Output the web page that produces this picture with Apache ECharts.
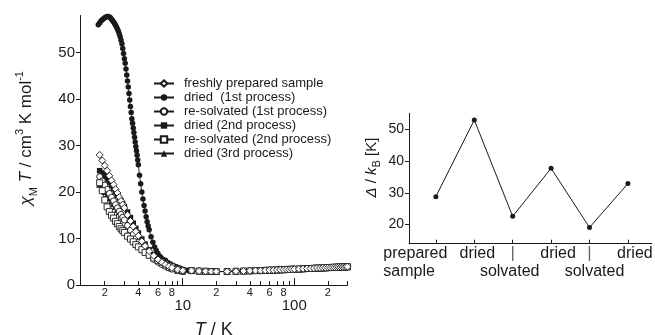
<!DOCTYPE html>
<html>
<head>
<meta charset="utf-8">
<script src="https://cdn.jsdelivr.net/npm/echarts@6/dist/echarts.min.js"></script>
<style>
html,body{margin:0;padding:0;background:#fff;}
#c{width:655px;height:335px;}
</style>
</head>
<body>
<div id="c"></div>
<script>
// ---------------- data ----------------
const seriesNames = [
  'freshly prepared sample',
  'dried  (1st process)',
  're-solvated (1st process)',
  'dried (2nd process)',
  're-solvated (2nd process)',
  'dried (3rd process)'
];
// dried (1st process), low temperature part (K, cm3 K mol-1)
const dried1T = [1.75,1.8,1.85,1.9,1.95,2.0,2.05,2.1,2.15,2.2,2.25,2.3,2.35,2.4,2.45,2.5,2.55,2.6,2.65,2.7,2.75,2.8,2.85,2.9,2.95,3.0,3.05,3.1,3.15,3.2,3.25,3.3,3.35,3.4,3.45,3.5,3.55,3.6,3.65,3.7,3.75,3.8,3.85,3.9,3.95,4.0,4.1,4.2,4.3,4.4,4.5,4.6,4.7,4.8,4.9,5.0,5.2,5.4,5.6,5.8,6.0,6.3,6.6,7.0,7.4,7.8,8.2,8.6,9.0,9.5,10,11];
const dried1Chi = [56.0,56.4,56.8,57.1,57.3,57.5,57.7,57.8,57.8,57.7,57.5,57.2,56.9,56.6,56.3,55.9,55.5,55.1,54.6,54.0,53.4,52.7,51.9,50.9,49.8,48.7,47.7,46.5,45.2,43.9,42.6,41.2,39.8,38.4,37.1,35.8,34.8,33.8,32.8,31.8,30.8,29.8,28.9,27.9,26.9,25.9,23.6,21.8,20.0,18.5,17.1,15.9,14.7,13.6,12.7,11.9,10.4,9.2,8.2,7.4,6.8,6.1,5.6,5.3,4.8,4.5,4.2,4.0,3.8,3.6,3.4,3.2];
// other five samples, low temperature part
const lowT = [1.8,1.9,2.0,2.1,2.2,2.3,2.4,2.5,2.6,2.7,2.8,2.9,3.0,3.2,3.4,3.6,3.8,4.0,4.3,4.6,5.0,5.5,6.0,6.5,7.0,7.5,8,9,10];
const freshChi   = [28.0,26.8,25.7,24.6,23.5,22.5,21.6,20.6,19.8,18.9,18.1,17.3,16.6,15.1,13.8,12.6,11.5,10.6,9.4,8.4,7.3,6.3,5.5,4.9,4.4,4.0,3.7,3.3,3.1];
const resolv1Chi = [23.3,22.4,21.5,20.6,19.7,18.9,18.1,17.3,16.6,15.9,15.2,14.6,14.0,12.8,11.8,10.9,10.0,9.2,8.2,7.3,6.4,5.5,4.9,4.4,4.0,3.7,3.4,3.1,2.9];
const dried2Chi  = [24.6,24.1,23.5,22.8,22.1,21.4,20.7,20.0,19.3,18.7,18.1,17.5,16.9,15.7,14.5,13.3,12.2,11.2,9.9,8.8,7.6,6.5,5.7,5.0,4.5,4.1,3.8,3.3,3.1];
const resolv2Chi = [22.0,20.3,18.3,16.8,15.8,15.0,14.4,13.7,13.2,12.6,12.1,11.7,11.3,10.5,9.9,9.3,8.7,8.2,7.6,7.0,6.4,5.8,5.3,4.9,4.5,4.2,3.9,3.4,3.1];
const dried3Chi  = [21.7,20.9,20.1,19.4,18.7,18.1,17.5,16.9,16.3,15.8,15.3,14.8,14.3,13.3,12.4,11.5,10.7,10.0,9.0,8.1,7.1,6.1,5.4,4.8,4.3,3.9,3.6,3.2,3.0];
// common high temperature tail (curves overlap)
const tailT = [12,14,16,18,20,25,30,35,40,45,50,55,60,65,70,75,80,85,90,95,100,110,120,130,140,150,160,170,180,190,200,210,220,230,240,250,260,270,280,290,300];
const tailChi = [3.1,3.0,2.95,2.9,2.9,2.9,2.95,3.0,3.05,3.1,3.1,3.15,3.2,3.2,3.25,3.3,3.3,3.35,3.35,3.4,3.4,3.45,3.5,3.55,3.55,3.6,3.65,3.65,3.7,3.7,3.75,3.75,3.8,3.8,3.85,3.85,3.85,3.9,3.9,3.95,3.95];

// axis ticks (left panel)
const leftYTicks = [0,10,20,30,40,50];
const leftXMinorTicks = [2,3,4,5,6,7,8,9,20,30,40,50,60,70,80,90,200,300];
const leftXMinorLabels = [2,4,6,8,20,40,60,80,200];
const leftXMajorTicks = [10,100];

// right panel
const deltaCategories = ['prepared\nsample','dried','|\nsolvated','dried','|\nsolvated','dried'];
const deltaValues = [28.8,52.9,22.6,37.7,19.1,32.9];
const rightYTicks = [20,30,40,50];

// ---------------- style ----------------
const FONT = '"Liberation Sans", Arial, Helvetica, sans-serif';
const INK = '#1a1a1a';
// per-label rich style names for the right panel category labels
const catStyleNames = [['pl','pl'],['d3'],['bar','s1'],['d7'],['bar','s2'],['d7']];
// category positions are split over three overlaid axes so no label is auto-hidden
const catLabelGroups = [[1,4],[2,5],[3,6]];

function pairs(ts, vs){ return ts.map(function(t,i){ return [t, vs[i]]; }); }

const defs = [
  {T: lowT.concat(tailT),   V: freshChi.concat(tailChi),   symbol:'diamond',  size:7,   filled:false, z:6},
  {T: dried1T.concat(tailT),V: dried1Chi.concat(tailChi),  symbol:'circle',   size:5.5, filled:true,  z:3},
  {T: lowT.concat(tailT),   V: resolv1Chi.concat(tailChi), symbol:'circle',   size:6,   filled:false, z:5},
  {T: lowT.concat(tailT),   V: dried2Chi.concat(tailChi),  symbol:'rect',     size:5.5, filled:true,  z:3},
  {T: lowT.concat(tailT),   V: resolv2Chi.concat(tailChi), symbol:'rect',     size:6,   filled:false, z:5},
  {T: lowT.concat(tailT),   V: dried3Chi.concat(tailChi),  symbol:'triangle', size:7,   filled:true,  z:3}
];

const series = defs.map(function(d, i){
  return {
    name: seriesNames[i],
    type: 'line',
    xAxisIndex: 0, yAxisIndex: 0,
    data: pairs(d.T, d.V),
    symbol: d.symbol,
    symbolSize: d.size,
    showSymbol: true,
    showAllSymbol: true,
    z: d.z,
    lineStyle: {color: INK, width: 0.9},
    itemStyle: d.filled ? {color: INK, borderColor: INK, borderWidth: 0}
                        : {color: '#ffffff', borderColor: INK, borderWidth: 0.9},
    emphasis: {disabled: true},
    animation: false
  };
});

series.push({
  name: 'delta',
  type: 'line',
  xAxisIndex: 2, yAxisIndex: 1,
  data: deltaValues.map(function(v,i){ return [i+1, v]; }),
  symbol: 'circle', symbolSize: 5,
  lineStyle: {color: INK, width: 1},
  itemStyle: {color: INK},
  emphasis: {disabled: true},
  animation: false
});

const richBase = {fontFamily: FONT, color: INK};
function rs(o){ return Object.assign({}, richBase, o); }

function catFormatter(v){
  const i = Math.round(v) - 1;
  const lines = deltaCategories[i].split('\n');
  return lines.map(function(t, k){ return '{' + catStyleNames[i][k] + '|' + t + '}'; }).join('\n');
}
const catRich = {
  pl: rs({fontSize: 16, lineHeight: 18, align: 'left', padding: [0, 41, 0, 0]}),
  d3: rs({fontSize: 16, lineHeight: 18, padding: [0, 0, 0, 6]}),
  d7: rs({fontSize: 16, lineHeight: 18, padding: [0, 0, 0, 14]}),
  s1: rs({fontSize: 16, lineHeight: 18, padding: [0, 6, 0, 0]}),
  s2: rs({fontSize: 16, lineHeight: 18, padding: [0, 0, 0, 10]}),
  bar: rs({fontSize: 17, lineHeight: 18, color: '#666666'})
};

const catAxes = catLabelGroups.map(function(group, gi){
  return {
    gridIndex: 1, type: 'value', min: 0.3, max: 6.62, position: 'bottom',
    axisLine: {show: gi === 0, lineStyle: {color: INK, width: 1}},
    axisTick: {show: gi === 0, inside: true, length: 4, customValues: [1,2,3,4,5,6], lineStyle: {color: INK}},
    axisLabel: {show: true, margin: 1, customValues: group, fontFamily: FONT, fontSize: 16, color: INK,
      showMinLabel: true, showMaxLabel: true, hideOverlap: false,
      formatter: catFormatter, rich: catRich},
    splitLine: {show: false}
  };
});

const option = {
  backgroundColor: '#ffffff',
  animation: false,
  grid: [
    {left: 80, top: 15.5, right: 307.5, bottom: 50, outerBoundsMode: 'none', containLabel: false},
    {left: 409, top: 113.3, right: 3.3, bottom: 91.3, outerBoundsMode: 'none', containLabel: false}
  ],
  legend: {
    data: seriesNames,
    orient: 'vertical',
    left: 153, top: 77, padding: 0,
    itemWidth: 20, itemHeight: 8, itemGap: 1,
    selectedMode: false,
    textStyle: {fontFamily: FONT, fontSize: 13, color: INK, padding: [0,0,0,5]}
  },
  xAxis: [
    {
      gridIndex: 0, type: 'log', logBase: 10, min: 1.2, max: 300,
      axisLine: {show: true, lineStyle: {color: INK, width: 1}},
      axisTick: {show: true, inside: true, length: 4, customValues: leftXMinorTicks, lineStyle: {color: INK, width: 1}},
      axisLabel: {show: true, margin: 2, fontSize: 11, fontFamily: FONT, color: INK,
                  customValues: leftXMinorLabels,
                  formatter: function(v){ return String(Math.round(v)).charAt(0); }},
      splitLine: {show: false}, minorTick: {show: false},
      name: '{i|T}{n| / K}', nameLocation: 'middle', nameGap: 34,
      nameTextStyle: {fontFamily: FONT, fontSize: 18, color: INK, rich: {
        i: rs({fontSize: 18, fontStyle: 'italic', lineHeight: 22}),
        n: rs({fontSize: 18, lineHeight: 22})
      }}
    },
    {
      gridIndex: 0, type: 'log', logBase: 10, min: 1.2, max: 300, position: 'bottom',
      axisLine: {show: false},
      axisTick: {show: true, inside: true, length: 7, customValues: leftXMajorTicks, lineStyle: {color: INK, width: 1}},
      axisLabel: {show: true, margin: 13, fontSize: 15, fontFamily: FONT, color: INK,
                  customValues: leftXMajorTicks,
                  formatter: function(v){ return String(Math.round(v)); }},
      splitLine: {show: false}
    }
  ].concat(catAxes),
  yAxis: [
    {
      gridIndex: 0, type: 'value', min: 0, max: 58,
      axisLine: {show: true, lineStyle: {color: INK, width: 1}},
      axisTick: {show: true, length: 4, customValues: leftYTicks, lineStyle: {color: INK}},
      axisLabel: {show: true, margin: 5, fontSize: 15, fontFamily: FONT, color: INK, customValues: leftYTicks},
      splitLine: {show: false},
      name: '{i|χ}{sub|M}{n| }{i|T}{n| / cm}{sup|3}{n| K mol}{sup|-1}',
      nameLocation: 'middle', nameGap: 41, nameRotate: 90,
      nameTextStyle: {fontFamily: FONT, fontSize: 17, color: INK, padding: [0, 0, 0, 24], rich: {
        i: rs({fontSize: 17, fontStyle: 'italic', lineHeight: 25}),
        n: rs({fontSize: 17, lineHeight: 25}),
        sub: rs({fontSize: 11, lineHeight: 12, verticalAlign: 'bottom'}),
        sup: rs({fontSize: 11, lineHeight: 12, verticalAlign: 'top'})
      }}
    },
    {
      gridIndex: 1, type: 'value', min: 14, max: 55,
      axisLine: {show: true, lineStyle: {color: INK, width: 1}},
      axisTick: {show: true, length: 4, customValues: rightYTicks, lineStyle: {color: INK}},
      axisLabel: {show: true, margin: 5, fontSize: 14, fontFamily: FONT, color: INK, customValues: rightYTicks},
      splitLine: {show: false},
      name: '{i|Δ}{n| / }{i|k}{sub|B}{n| [K]}',
      nameLocation: 'middle', nameGap: 27, nameRotate: 90,
      nameTextStyle: {fontFamily: FONT, fontSize: 15, color: INK, padding: [0, 0, 0, 22], rich: {
        i: rs({fontSize: 15, fontStyle: 'italic', lineHeight: 20}),
        n: rs({fontSize: 15, lineHeight: 20}),
        sub: rs({fontSize: 11, lineHeight: 11, verticalAlign: 'bottom'})
      }}
    }
  ],
  series: series
};

const chart = echarts.init(document.getElementById('c'), null, {renderer: 'canvas'});
chart.setOption(option);
</script>
</body>
</html>
